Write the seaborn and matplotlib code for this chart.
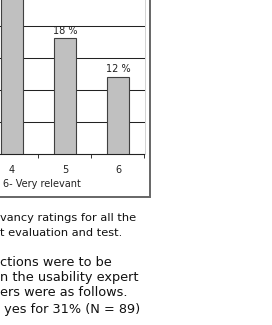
import matplotlib
matplotlib.use("Agg")
import matplotlib.pyplot as plt
import seaborn as sns
import pandas as pd
from matplotlib.patches import Rectangle

# Data (visible part of the chart)
categories = ["4", "5", "6"]
values = [28, 18, 12]
bar_labels = ["", "18 %", "12 %"]  # label of bar 4 lies outside the visible crop
axis_label = "6- Very relevant"
caption_lines = ["vancy ratings for all the", "t evaluation and test."]
body_lines = ["ctions were to be", "n the usability expert",
              "ers were as follows.", " yes for 31% (N = 89)"]

sns.set_theme(style="white")
plt.rcParams['font.family'] = ['DejaVu Sans']

W, H = 272, 325
fig = plt.figure(figsize=(W / 100, H / 100), dpi=100)
fig.patch.set_facecolor("white")

def fx(px):
    return px / W

def fy(py):
    return 1 - py / H

cat_w = 53.0
right_px = 144.5
bottom_px = 153.5
ymax = 30
px_per_unit = 32 / 5
left_px = right_px - 6 * cat_w
top_px = bottom_px - ymax * px_per_unit

ax = fig.add_axes([fx(left_px), fy(bottom_px), (right_px - left_px) / W,
                   (bottom_px - top_px) / H])
ax.set_facecolor("none")

df = pd.DataFrame({"cat": categories, "val": values})
sns.barplot(data=df, x="cat", y="val", order=categories, color="#c0c0c0",
            edgecolor="#404040", linewidth=0.8, width=22 / 53, ax=ax,
            saturation=1, zorder=3)

ax.set_xlim(-3.5, 2.5)
ax.set_ylim(0, ymax)
for g in [5, 10, 15, 20, 25]:
    ax.axhline(g, color="#222222", lw=0.75, zorder=1)

ax.set_yticks([])
ax.set_xticks(range(len(categories)))
ax.set_xticklabels(categories, fontsize=7, color="#222222")
ax.set_xticks([-0.5, 0.5, 1.5, 2.5], minor=True)
ax.tick_params(axis="x", which="major", length=0, pad=8)
ax.tick_params(axis="x", which="minor", length=3, width=0.7, direction="out",
               color="#333333", bottom=True)
ax.set_xlabel("")
ax.set_ylabel("")
for s in ["left", "top"]:
    ax.spines[s].set_visible(False)
ax.spines["bottom"].set_color("#222222")
ax.spines["bottom"].set_linewidth(0.8)
ax.spines["right"].set_color("#cccccc")
ax.spines["right"].set_linewidth(0.6)

for i, (v, lab) in enumerate(zip(values, bar_labels)):
    if lab:
        ax.text(i, v + 1.2, lab, ha="center", va="center", fontsize=7,
                color="#222222", zorder=4)

fig.text(fx(3), fy(184), axis_label, ha="left", va="center", fontsize=7,
         color="#222222")

# chart frame
fig.add_artist(Rectangle((fx(-20), fy(197)), fx(149.7 + 20), 1.2,
                         transform=fig.transFigure, fill=False,
                         edgecolor="#666666", linewidth=1.4))

caption_y = [218, 233]
for t, y in zip(caption_lines, caption_y):
    fig.text(fx(0), fy(y), t, ha="left", va="center", fontsize=8.2,
             color="#111111")
body_y = [262, 278, 293, 309]
for t, y in zip(body_lines, body_y):
    fig.text(fx(0), fy(y), t, ha="left", va="center", fontsize=9.3,
             color="#111111")

fig.savefig("out.png", dpi=100, facecolor="white")
